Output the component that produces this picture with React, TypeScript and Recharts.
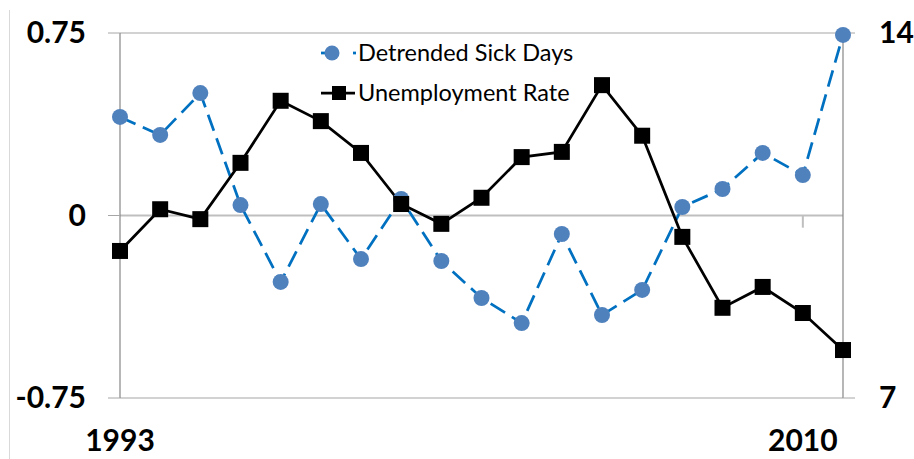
import React from 'react';
import { LineChart, Line, XAxis, YAxis, CartesianGrid, ReferenceLine } from 'recharts';

const years = ['1993','1994','1995','1996','1997','1998','1999','2000','2001','2002','2003','2004','2005','2006','2007','2008','2009','2010','2011'];
const sickDays = [0.405, 0.331, 0.503, 0.043, -0.273, 0.047, -0.179, 0.068, -0.187, -0.339, -0.442, -0.076, -0.409, -0.306, 0.035, 0.109, 0.257, 0.166, 0.742];
const unemployment = [9.82, 10.62, 10.43, 11.51, 12.70, 12.31, 11.70, 10.72, 10.34, 10.84, 11.62, 11.72, 13.0, 12.03, 10.09, 8.73, 9.13, 8.63, 7.92];
const yearLabels = ['1993', '2010'];
const leftTicks = [-0.75, 0, 0.75];
const rightTicks = [7, 14];
const seriesNames = ['Detrended Sick Days', 'Unemployment Rate'];

const data = years.map((y, i) => ({ year: y, sick: sickDays[i], unemp: unemployment[i] }));

const BOLD_FONT = 'Lato, "Open Sans", sans-serif';
const BLUE_LINE = '#0070C0';
const BLUE_DOT = '#4F81BD';

const LeftTick = (props: any) => {
  const { x, y, payload } = props;
  const label = payload.value === 0 ? '0' : String(payload.value);
  return (
    <text x={x} y={y} dx={-20} dy={10} textAnchor="end" fontFamily={BOLD_FONT} fontWeight={700} fontSize={30} fill="#000">
      {label}
    </text>
  );
};

const RightTick = (props: any) => {
  const { x, y, payload } = props;
  return (
    <text x={x} y={y} dx={22} dy={10} textAnchor="start" fontFamily={BOLD_FONT} fontWeight={700} fontSize={30} fill="#000">
      {String(payload.value)}
    </text>
  );
};

const XTick = (props: any) => {
  const { x, y, payload } = props;
  if (!yearLabels.includes(payload.value)) return null;
  return (
    <text x={x} y={y} dy={45} textAnchor="middle" fontFamily={BOLD_FONT} fontWeight={700} fontSize={30} fill="#000">
      {payload.value}
    </text>
  );
};

const SquareDot = (props: any) => {
  const { cx, cy, index } = props;
  if (cx == null || cy == null) return null;
  return <rect key={`sq-${index}`} x={cx - 8} y={cy - 8} width={16} height={16} fill="#000" />;
};

const CircleDot = (props: any) => {
  const { cx, cy, index } = props;
  if (cx == null || cy == null) return null;
  return <circle key={`ci-${index}`} cx={cx} cy={cy} r={8} fill={BLUE_DOT} />;
};

const LegendBox = () => (
  <svg width={280} height={80} style={{ position: 'absolute', left: 318, top: 36 }}>
    <g>
      <line x1={3} y1={17} x2={12} y2={17} stroke={BLUE_LINE} strokeWidth={2.75} />
      <circle cx={14} cy={17} r={7.5} fill={BLUE_DOT} />
      <line x1={35} y1={17} x2={38} y2={17} stroke={BLUE_LINE} strokeWidth={2.75} />
      <text x={40} y={25} fontFamily={BOLD_FONT} fontSize={23.5} fill="#000">{seriesNames[0]}</text>
    </g>
    <g>
      <line x1={3} y1={57} x2={37} y2={57} stroke="#000" strokeWidth={2.75} />
      <rect x={14} y={50} width={14} height={14} fill="#000" />
      <text x={40} y={65} fontFamily={BOLD_FONT} fontSize={23.5} fill="#000">{seriesNames[1]}</text>
    </g>
  </svg>
);

export default function App() {
  return (
    <div style={{ position: 'absolute', left: 0, top: 0, width: 914, height: 459, background: '#fff', overflow: 'hidden' }}>
      <div style={{ position: 'absolute', left: 9, top: 10, width: 1, height: 449, background: '#d9d9d9' }} />
      <LineChart width={914} height={459} data={data} margin={{ top: 33, right: 11, bottom: 11, left: 8 }}>
        <CartesianGrid yAxisId="left" horizontal={true} vertical={false} stroke="#a6a6a6" strokeWidth={1.2} />
        <XAxis dataKey="year" height={50} axisLine={false} tickLine={false} interval={0} tick={<XTick />} padding={{ left: 0, right: 0 }} />
        <YAxis yAxisId="left" width={112} domain={[-0.75, 0.75]} ticks={leftTicks} tickSize={12} tickLine={{ stroke: '#a6a6a6' }} axisLine={{ stroke: '#868686', strokeWidth: 1.2 }} tick={<LeftTick />} />
        <YAxis yAxisId="right" orientation="right" width={60} domain={[7, 14]} ticks={rightTicks} tickSize={12} tickLine={{ stroke: '#a6a6a6' }} axisLine={{ stroke: '#868686', strokeWidth: 1.2 }} tick={<RightTick />} />
        <ReferenceLine yAxisId="left" y={0} stroke="#bfbfbf" strokeWidth={2} />
        <ReferenceLine yAxisId="left" segment={[{ x: '2010', y: 0 }, { x: '2010', y: -0.05 }]} stroke="#bfbfbf" strokeWidth={2} />
        <Line yAxisId="left" dataKey="sick" name={seriesNames[0]} stroke={BLUE_LINE} strokeWidth={2.75} strokeDasharray="17 8" dot={<CircleDot />} isAnimationActive={false} />
        <Line yAxisId="right" dataKey="unemp" name={seriesNames[1]} stroke="#000" strokeWidth={2.75} dot={<SquareDot />} isAnimationActive={false} />
      </LineChart>
      <LegendBox />
    </div>
  );
}
